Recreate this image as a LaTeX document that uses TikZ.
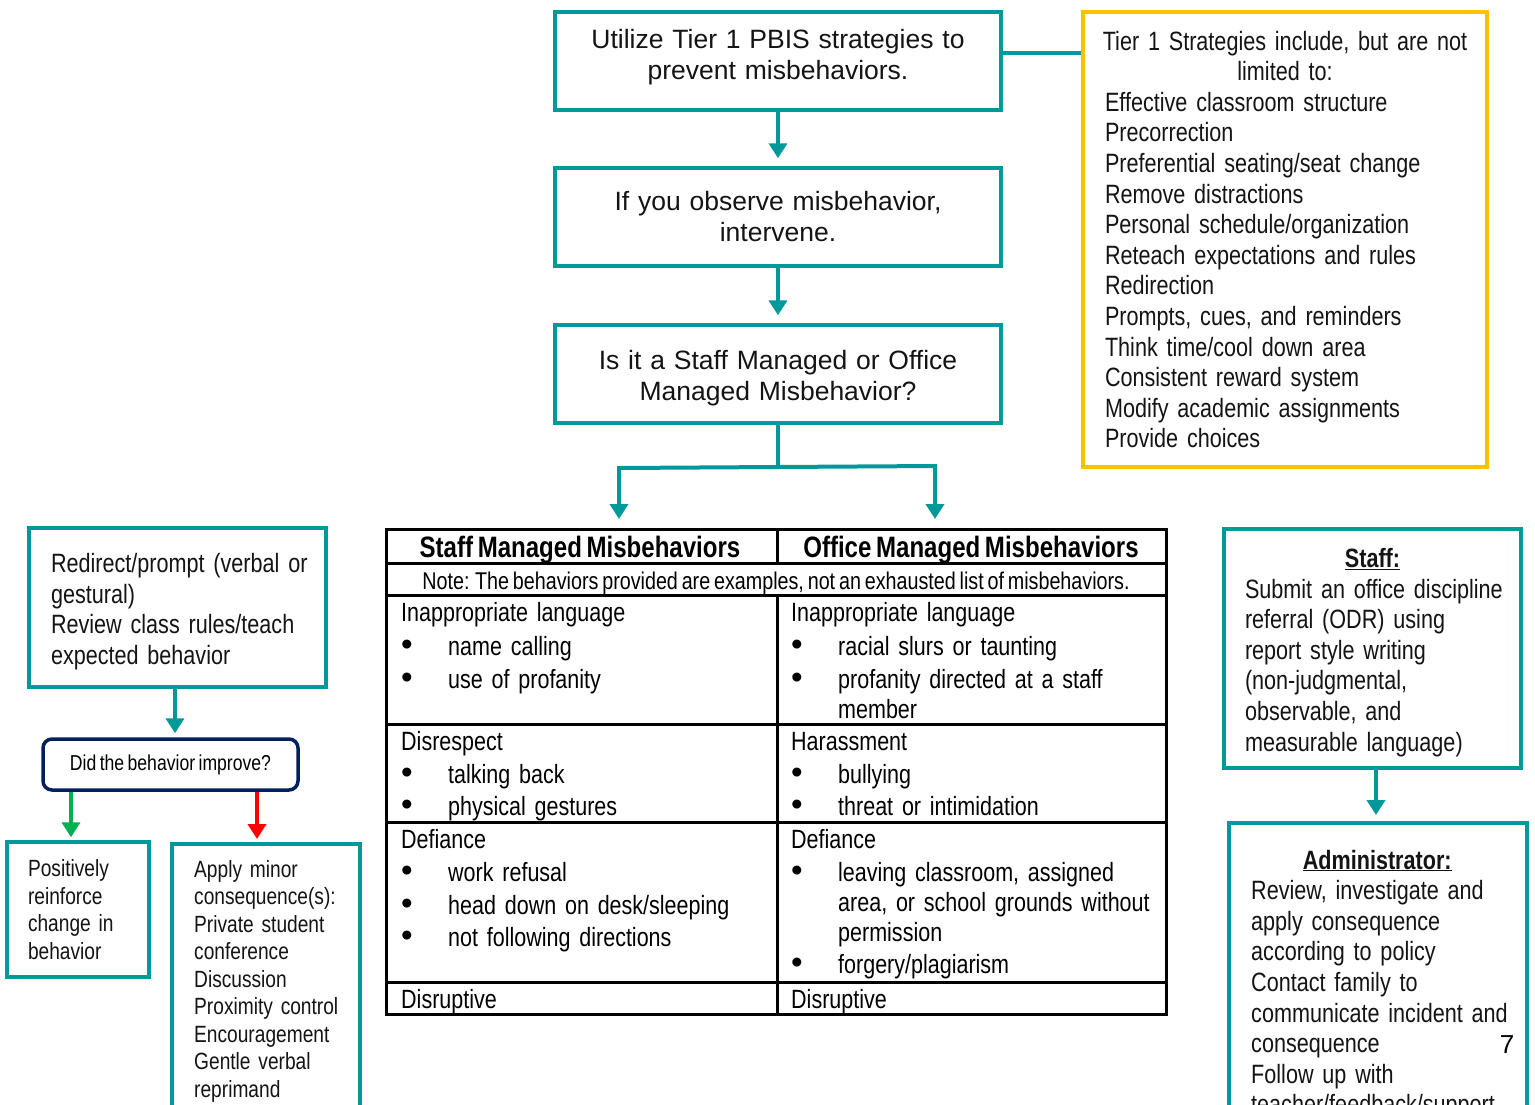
\documentclass[tikz,border=0pt]{standalone}
\usepackage{fontspec}
\setmainfont{Liberation Sans}
\newfontfamily\narrowf[FakeStretch=0.815,WordSpace=0.7]{Liberation Sans}
\usetikzlibrary{arrows.meta}
\definecolor{tealc}{RGB}{0,153,153}
\definecolor{goldc}{RGB}{255,192,0}
\definecolor{navyc}{RGB}{0,32,96}
\definecolor{greenc}{RGB}{0,176,80}
\definecolor{redc}{RGB}{255,0,0}
\definecolor{txtc}{RGB}{20,20,20}
\newcommand\fsMain{\fontsize{26.5}{31}\selectfont}
\newcommand\fsNar{\narrowf\fontsize{26.5}{30.6}\selectfont}
\newcommand\fsTab{\narrowf\fontsize{26.4}{30}\selectfont}
\newcommand\fsSmall{\narrowf\fontsize{23.5}{27.5}\selectfont}
\newcommand\fsDid{\narrowf\fontsize{21.6}{25}\selectfont}
\newcommand\fsHead{\narrowf\bfseries\fontsize{29.5}{32}\selectfont}
\newcommand\fsNote{\narrowf\fontsize{24.2}{26}\selectfont}
\newcommand\bul{\makebox[47pt][l]{{\normalfont\fontsize{33}{30}\selectfont\textbullet}}}
\newcommand\hang{\hspace*{47pt}}
\newcommand\li[1]{\mbox{#1}}
\newcommand\ctr[1]{\makebox[0pt]{#1}}
\tikzset{
  tbox/.style={draw=tealc, line width=3.5pt, text width=430pt, align=center, font=\fsMain, text=txtc, inner xsep=8pt, inner ysep=0pt},
  lbox/.style={draw=tealc, line width=3.5pt, align=left, text=txtc, inner ysep=0pt},
  frame/.style={draw=tealc, line width=3.5pt, inner sep=0pt},
  tline/.style={draw=tealc, line width=4pt},
  tarr/.style={draw=tealc, line width=4pt, -{Triangle[width=18pt,length=15pt]}},
  garr/.style={draw=greenc, line width=4pt, -{Triangle[width=18pt,length=15pt]}},
  rarr/.style={draw=redc, line width=4pt, -{Triangle[width=18pt,length=15pt]}},
  tabline/.style={draw=black, line width=3pt},
  cell/.style={anchor=base west, inner sep=0pt, align=left, text width=370pt, font=\fsTab, text=black},
  hd/.style={anchor=base, inner sep=0pt, font=\fsHead, text=black},
}
\begin{document}
\begin{tikzpicture}[x=1pt,y=-1pt]
\useasboundingbox (0,0) rectangle (1535,1104);
\clip (0,0) rectangle (1535,1104);
\fill[white] (0,0) rectangle (1535,1104);

% top flow
\node[tbox, minimum height=98pt] (b1) at (778,61) {Utilize Tier 1 PBIS strategies to\\prevent misbehaviors.\par\vspace{8pt}};
\node[tbox, minimum height=98pt] (b2) at (778,217) {If you observe misbehavior,\\intervene.};
\node[tbox, minimum height=98pt] (b3) at (778,374) {Is it a Staff Managed or Office\\Managed Misbehavior?\par\vspace{-8pt}};

% tier 1 box
\node[draw=goldc, line width=3.5pt, minimum height=455pt, text width=360pt, inner xsep=22pt, inner ysep=0pt, font=\fsNar, text=txtc] (tier) at (1285,239.5)
{{\centering\ctr{Tier 1 Strategies include, but are not}\\\ctr{limited to:}\par}\raggedright
\li{Effective classroom structure}\\\li{Precorrection}\\\li{Preferential seating/seat change}\\\li{Remove distractions}\\\li{Personal schedule/organization}\\\li{Reteach expectations and rules}\\\li{Redirection}\\\li{Prompts, cues, and reminders}\\\li{Think time/cool down area}\\\li{Consistent reward system}\\\li{Modify academic assignments}\\\li{Provide choices}};

\coordinate (c1) at (1001,53);
\draw[draw=tealc, line width=3.5pt] (c1) -- (c1 -| tier.west);

\draw[tarr, shorten >=8pt] (b1.south) -- (b2.north);
\draw[tarr, shorten >=8pt] (b2.south) -- (b3.north);

\coordinate (jL) at (619,468);
\coordinate (jR) at (935,466);
\coordinate (tL) at (619,519);
\coordinate (tR) at (935,519);
\draw[tline] (b3.south) -- (b3.south |- 0,467);
\draw[draw=tealc, line width=4pt, {Triangle[width=18pt,length=15pt]}-{Triangle[width=18pt,length=15pt]}] (tL) -- (jL) -- (jR) -- (tR);

% table
\draw[tabline] (386,529) rectangle (1166,1014);
\draw[tabline] (386,563) -- (1166,563);
\draw[tabline] (386,595) -- (1166,595);
\draw[tabline] (386,724) -- (1166,724);
\draw[tabline] (386,822) -- (1166,822);
\draw[tabline] (386,982) -- (1166,982);
\draw[tabline] (777,529) -- (777,563);
\draw[tabline] (777,595) -- (777,1014);

\node[hd] (hs) at (580,557) {Staff Managed Misbehaviors};
\node[hd] (ho) at (971,557) {Office Managed Misbehaviors};
\node[anchor=base, inner sep=0pt, font=\fsNote, text=black] (note) at (776,589) {Note: The behaviors provided are examples, not an exhausted list of misbehaviors.};

\node[cell] (c11) at (401,621) {Inappropriate language\\[4pt]\bul name calling\\[3pt]\bul use of profanity};
\node[cell] (c12) at (791,621) {Inappropriate language\\[4pt]\bul racial slurs or taunting\\[3pt]\bul profanity directed at a staff\\\hang member};
\node[cell] (c21) at (401,750) {Disrespect\\[3pt]\bul talking back\\[2pt]\bul physical gestures};
\node[cell] (c22) at (791,750) {Harassment\\[3pt]\bul bullying\\[2pt]\bul threat or intimidation};
\node[cell] (c31) at (401,848) {Defiance\\[3pt]\bul work refusal\\[3pt]\bul head down on desk/sleeping\\[2pt]\bul not following directions};
\node[cell] (c32) at (791,848) {Defiance\\[3pt]\bul leaving classroom, assigned\\\hang area, or school grounds without\\\hang permission\\[2pt]\bul forgery/plagiarism};
\node[cell] (c41) at (401,1008) {Disruptive};
\node[cell] (c42) at (791,1008) {Disruptive};

% left branch
\node[lbox, minimum height=159pt, text width=253pt, inner xsep=22pt, font=\fsNar] (redir) at (177.5,607.5)
{\li{Redirect/prompt (verbal or}\\\li{gestural)}\\\li{Review class rules/teach}\\\li{expected behavior}\par\vspace{-8pt}};
\node[draw=navyc, line width=3.5pt, rounded corners=9pt, minimum width=255pt, minimum height=51pt, inner sep=0pt, font=\fsDid, text=black] (did) at (170.5,764.5) {Did the behavior improve?};
\draw[tarr, shorten >=4pt] (redir.south -| 175,0) -- (175,0 |- did.north);

\node[lbox, minimum height=135pt, text width=100pt, inner xsep=21pt, font=\fsSmall] (pos) at (78,909.5)
{\li{Positively}\\\li{reinforce}\\\li{change in}\\\li{behavior}};
\node[frame, minimum width=188pt, minimum height=400pt, anchor=north] (apply) at (266,842) {};
\node[anchor=base west, inner sep=0pt, text width=165pt, align=left, font=\fsSmall, text=txtc] (applyt) at (194,877)
{\li{Apply minor}\\\li{consequence(s):}\\\li{Private student}\\\li{conference}\\\li{Discussion}\\\li{Proximity control}\\\li{Encouragement}\\\li{Gentle verbal}\\\li{reprimand}};

\coordinate (gs) at (71,792);
\coordinate (rs) at (257,792);
\draw[garr, shorten >=3pt] (gs) -- (gs |- pos.north);
\draw[rarr, shorten >=3pt] (rs) -- (rs |- apply.north);

% right branch
\node[lbox, minimum height=239pt, text width=255pt, inner xsep=21pt, font=\fsNar] (staff) at (1372.5,648.5)
{{\centering\ctr{\bfseries\underline{Staff:}}\par}\raggedright \li{Submit an office discipline}\\\li{referral (ODR) using}\\\li{report style writing}\\\li{(non-judgmental,}\\\li{observable, and}\\\li{measurable language)}\par\vspace{-8pt}};
\node[frame, minimum width=298pt, minimum height=400pt, anchor=north] (admin) at (1378,821) {};
\node[anchor=base west, inner sep=0pt, text width=252pt, align=left, font=\fsNar, text=txtc] (admint) at (1251,869)
{{\centering\ctr{\bfseries\underline{Administrator:}}\par}\raggedright \li{Review, investigate and}\\\li{apply consequence}\\\li{according to policy}\\\li{Contact family to}\\\li{communicate incident and}\\\li{consequence}\\\li{Follow up with}\\\li{teacher/feedback/support}};
\draw[tarr, shorten >=6pt] (staff.south -| 1376,0) -- (1376,0 |- admin.north);

\node[anchor=base, inner sep=0pt, font=\fontsize{26}{30}\selectfont, text=black] (pagenum) at (1507,1053) {7};
\end{tikzpicture}
\end{document}
